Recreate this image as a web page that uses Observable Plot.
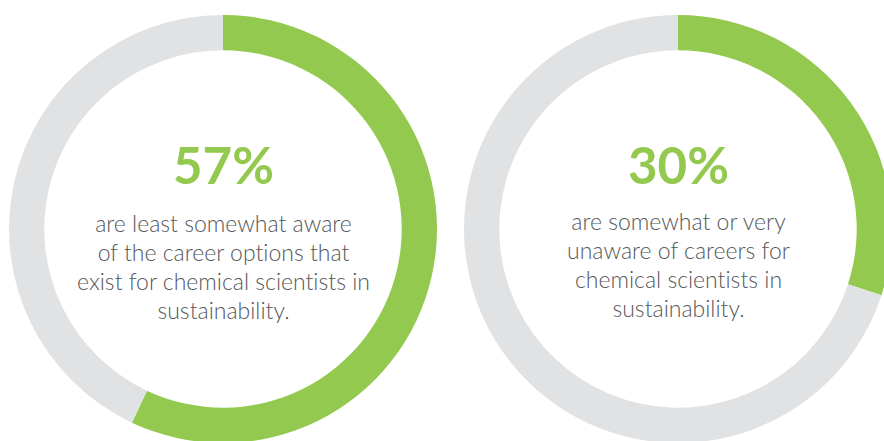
<!DOCTYPE html>
<html>
<head>
<meta charset="utf-8">
<script src="https://cdn.jsdelivr.net/npm/d3@7"></script>
<script src="https://cdn.jsdelivr.net/npm/@observablehq/plot@0.6"></script>
<style>
  html, body { margin: 0; padding: 0; background: #ffffff; overflow: hidden; }
  #chart svg { display: block; }
  #chart text { font-variant-ligatures: none; font-feature-settings: "liga" 0; }
</style>
</head>
<body>
<div id="chart"></div>
<script>
// ---- data ----
const labels = ["57%", "30%"];
const shares = [57, 30];
const captions = [
  "are least somewhat aware\nof the career options that\nexist for chemical scientists in\nsustainability.",
  "are somewhat or very\nunaware of careers for\nchemical scientists in\nsustainability."
];
const parts = ["share", "rest"];

// ---- derived tables ----
const rows = labels.map((label, i) => ({label, share: shares[i], caption: captions[i]}));
const segments = rows.flatMap(r => [
  {label: r.label, part: "share", start: 0, end: r.share},
  {label: r.label, part: "rest", start: r.share, end: 100}
]);

const GREEN = "#94c94f";
const GRAY = "#e1e2e4";
const TEXT = "#55575a";
const partColor = {share: GREEN, rest: GRAY};
const innerRatio = 0.835;

function rings(index, scales) {
  const g = d3.create("svg:g");
  const R = (scales.y(1) - scales.y(-1)) / 2;
  const cy = scales.y(0);
  const arc = d3.arc().innerRadius(R * innerRatio).outerRadius(R);
  for (const s of segments) {
    g.append("path")
      .attr("transform", `translate(${scales.x(s.label)},${cy})`)
      .attr("d", arc({startAngle: s.start / 100 * 2 * Math.PI, endAngle: s.end / 100 * 2 * Math.PI}))
      .attr("fill", partColor[s.part]);
  }
  return g.node();
}

const chart = Plot.plot({
  width: 884,
  height: 441,
  margin: 0,
  style: {background: "#ffffff"},
  x: {type: "point", domain: labels, range: [222.7, 677.7], padding: 0, axis: null},
  y: {domain: [-1, 1], range: [15, 443], axis: null},
  marks: [
    rings,
    Plot.text(rows, {
      x: "label", y: -0.212, text: "label",
      lineAnchor: "bottom", textAnchor: "middle",
      fill: GREEN, fontSize: 51, fontWeight: 700,
      fontFamily: "Lato, 'Open Sans', sans-serif"
    }),
    Plot.text(rows, {
      x: "label", y: d => d.label === "57%" ? -0.083 : -0.095, text: "caption",
      lineAnchor: "top", textAnchor: "middle", lineHeight: 29 / 23,
      fill: TEXT, fontSize: 23, fontWeight: 300,
      fontFamily: "Lato, 'Open Sans', sans-serif"
    })
  ]
});
document.getElementById("chart").appendChild(chart);
</script>
</body>
</html>
